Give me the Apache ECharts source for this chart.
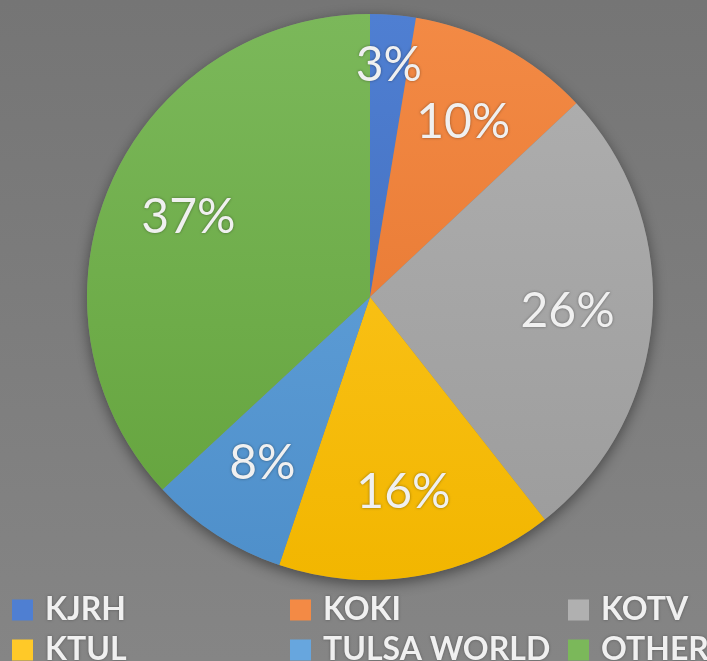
<!DOCTYPE html>
<html lang="en">

<head>
    <meta charset="UTF-8">
    <script src="https://cdn.jsdelivr.net/npm/echarts@6/dist/echarts.min.js"></script>
    <title>pie</title>
    <style>
        html, body { margin: 0; padding: 0; }
        #pieChart { width: 707px; height: 661px; }
    </style>
</head>

<body>
    <div id="pieChart"></div>
    <script>
        var stations = ['KJRH', 'KOKI', 'KOTV', 'KTUL', 'TULSA WORLD', 'OTHER'];
        var shares = [2.6, 10.4, 26.4, 15.8, 7.9, 36.9];
        var topColors = ['#4f7fd2', '#f38a45', '#b0b0b0', '#ffc928', '#67a6de', '#7bb85a'];
        var bottomColors = ['#3d67b5', '#e2712a', '#9b9b9b', '#f2b600', '#4e8fca', '#63a23b'];

        var cx = 370, cy = 297, radius = 283;

        function grad(i) {
            return new echarts.graphic.LinearGradient(0, cy - radius, 0, cy + radius, [
                { offset: 0, color: topColors[i] },
                { offset: 1, color: bottomColors[i] }
            ], true);
        }

        var pieData = stations.map(function (name, i) {
            return { name: name, value: shares[i], itemStyle: { color: grad(i) } };
        });

        // label points in polar coords: [radius, mid angle of slice in %]
        // thin slices get their label pushed outward, like excel's best fit
        var total = shares.reduce(function (a, b) { return a + b; }, 0);
        var acc = 0;
        var labelPoints = shares.map(function (v) {
            var mid = acc + v / 2;
            acc += v;
            return { value: [v < 5 ? 0.82 : 0.7, mid / total * 100], share: v };
        });

        function legendCol(names, left) {
            return {
                orient: 'vertical',
                left: left,
                top: 594,
                height: 120,
                padding: 0,
                icon: 'rect',
                itemWidth: 21,
                itemHeight: 21,
                itemGap: 8,
                selectedMode: false,
                data: names.map(function (n) {
                    return { name: n, itemStyle: { color: topColors[stations.indexOf(n)] } };
                }),
                textStyle: {
                    fontFamily: 'Lato',
                    fontWeight: 'bold',
                    fontSize: 32,
                    lineHeight: 32,
                    color: '#f0f0f0',
                    padding: [0, 0, 0, 7],
                    textShadowColor: 'rgba(0,0,0,0.35)',
                    textShadowBlur: 3
                }
            };
        }

        var chart = echarts.init(document.getElementById('pieChart'));
        chart.setOption({
            backgroundColor: new echarts.graphic.LinearGradient(0, 0, 0, 1, [
                { offset: 0, color: '#757575' },
                { offset: 1, color: '#858585' }
            ]),
            animation: false,
            polar: { center: [cx, cy], radius: radius },
            angleAxis: {
                type: 'value', min: 0, max: 100, startAngle: 90, clockwise: true,
                show: false
            },
            radiusAxis: { type: 'value', min: 0, max: 1, show: false },
            legend: [
                legendCol(['KJRH', 'KTUL'], 12),
                legendCol(['KOKI', 'TULSA WORLD'], 290),
                legendCol(['KOTV', 'OTHER'], 568)
            ],
            series: [
                {
                    // soft shadow under the disc
                    type: 'pie',
                    z: 1,
                    silent: true,
                    center: [cx, cy],
                    radius: radius,
                    label: { show: false },
                    itemStyle: {
                        color: '#808080',
                        shadowBlur: 14,
                        shadowOffsetY: 4,
                        shadowColor: 'rgba(0,0,0,0.45)'
                    },
                    data: [{ name: '_bg', value: 1 }]
                },
                {
                    type: 'pie',
                    z: 2,
                    center: [cx, cy],
                    radius: radius,
                    startAngle: 90,
                    clockwise: true,
                    label: { show: false },
                    labelLine: { show: false },
                    emphasis: { disabled: true },
                    data: pieData
                },
                {
                    type: 'scatter',
                    coordinateSystem: 'polar',
                    z: 5,
                    silent: true,
                    symbolSize: 0,
                    itemStyle: { opacity: 1 },
                    label: {
                        show: true,
                        position: 'inside',
                        formatter: function (p) {
                            return Math.round(p.data.share) + '%';
                        },
                        fontFamily: 'Lato',
                        fontSize: 48,
                        color: '#f0f0f0',
                        textShadowColor: 'rgba(0,0,0,0.4)',
                        textShadowBlur: 3
                    },
                    data: labelPoints
                }
            ]
        });
    </script>
</body>

</html>
